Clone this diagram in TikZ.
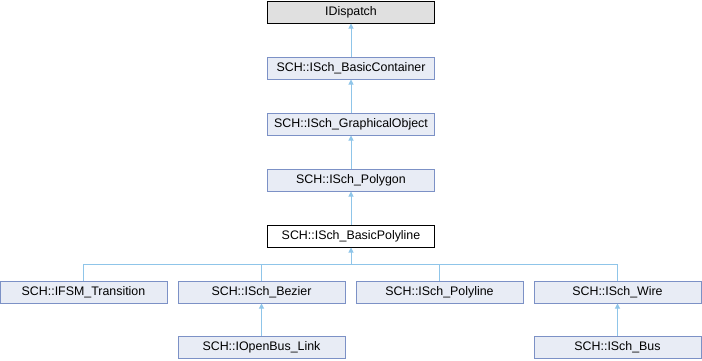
\documentclass[tikz,border=0pt]{standalone}
\usepackage{fontspec}
\setmainfont{Liberation Sans}
\usetikzlibrary{arrows.meta}
\definecolor{edgecol}{HTML}{8FC5E9}
\definecolor{boxfill}{HTML}{E8ECF5}
\definecolor{boxline}{HTML}{7C91C6}
\definecolor{grayfill}{HTML}{E0E0E0}
\begin{document}
\begin{tikzpicture}[x=1pt,y=1pt,
  every node/.style={font=\fontsize{12.4}{14}\selectfont},
  cls/.style={draw=boxline,fill=boxfill,line width=1pt,minimum width=167pt,minimum height=22pt,inner sep=0pt},
  top/.style={cls,draw=black,fill=grayfill},
  cur/.style={cls,draw=black,fill=white},
  edge/.style={draw=edgecol,line width=1pt},
  arr/.style={edge,-{Triangle[length=5pt,width=5pt]}}]
\useasboundingbox (0,0) rectangle (702,-360);
\node[top] (idisp) at (351,-12) {IDispatch};
\node[cls] (bcont) at (351,-68) {SCH::ISch\_BasicContainer};
\node[cls] (gobj) at (351,-124) {SCH::ISch\_GraphicalObject};
\node[cls] (poly) at (351,-180) {SCH::ISch\_Polygon};
\node[cur] (bpoly) at (351,-236) {SCH::ISch\_BasicPolyline};
\node[cls] (fsm) at (83.5,-292) {SCH::IFSM\_Transition};
\node[cls] (bez) at (261.5,-292) {SCH::ISch\_Bezier};
\node[cls] (pline) at (439.5,-292) {SCH::ISch\_Polyline};
\node[cls] (wire) at (617.5,-292) {SCH::ISch\_Wire};
\node[cls] (obl) at (261.5,-347.5) {SCH::IOpenBus\_Link};
\node[cls] (bus) at (617.5,-347.5) {SCH::ISch\_Bus};
\coordinate (j) at (351,-264);
\draw[arr] (bcont.north) -- (idisp.south);
\draw[arr] (gobj.north) -- (bcont.south);
\draw[arr] (poly.north) -- (gobj.south);
\draw[arr] (bpoly.north) -- (poly.south);
\draw[edge] (fsm.north) |- (j);
\draw[edge] (bez.north) |- (j);
\draw[edge] (pline.north) |- (j);
\draw[edge] (wire.north) |- (j);
\draw[arr] (j) -- (bpoly.south);
\draw[arr] (obl.north) -- (bez.south);
\draw[arr] (bus.north) -- (wire.south);
\end{tikzpicture}
\end{document}
